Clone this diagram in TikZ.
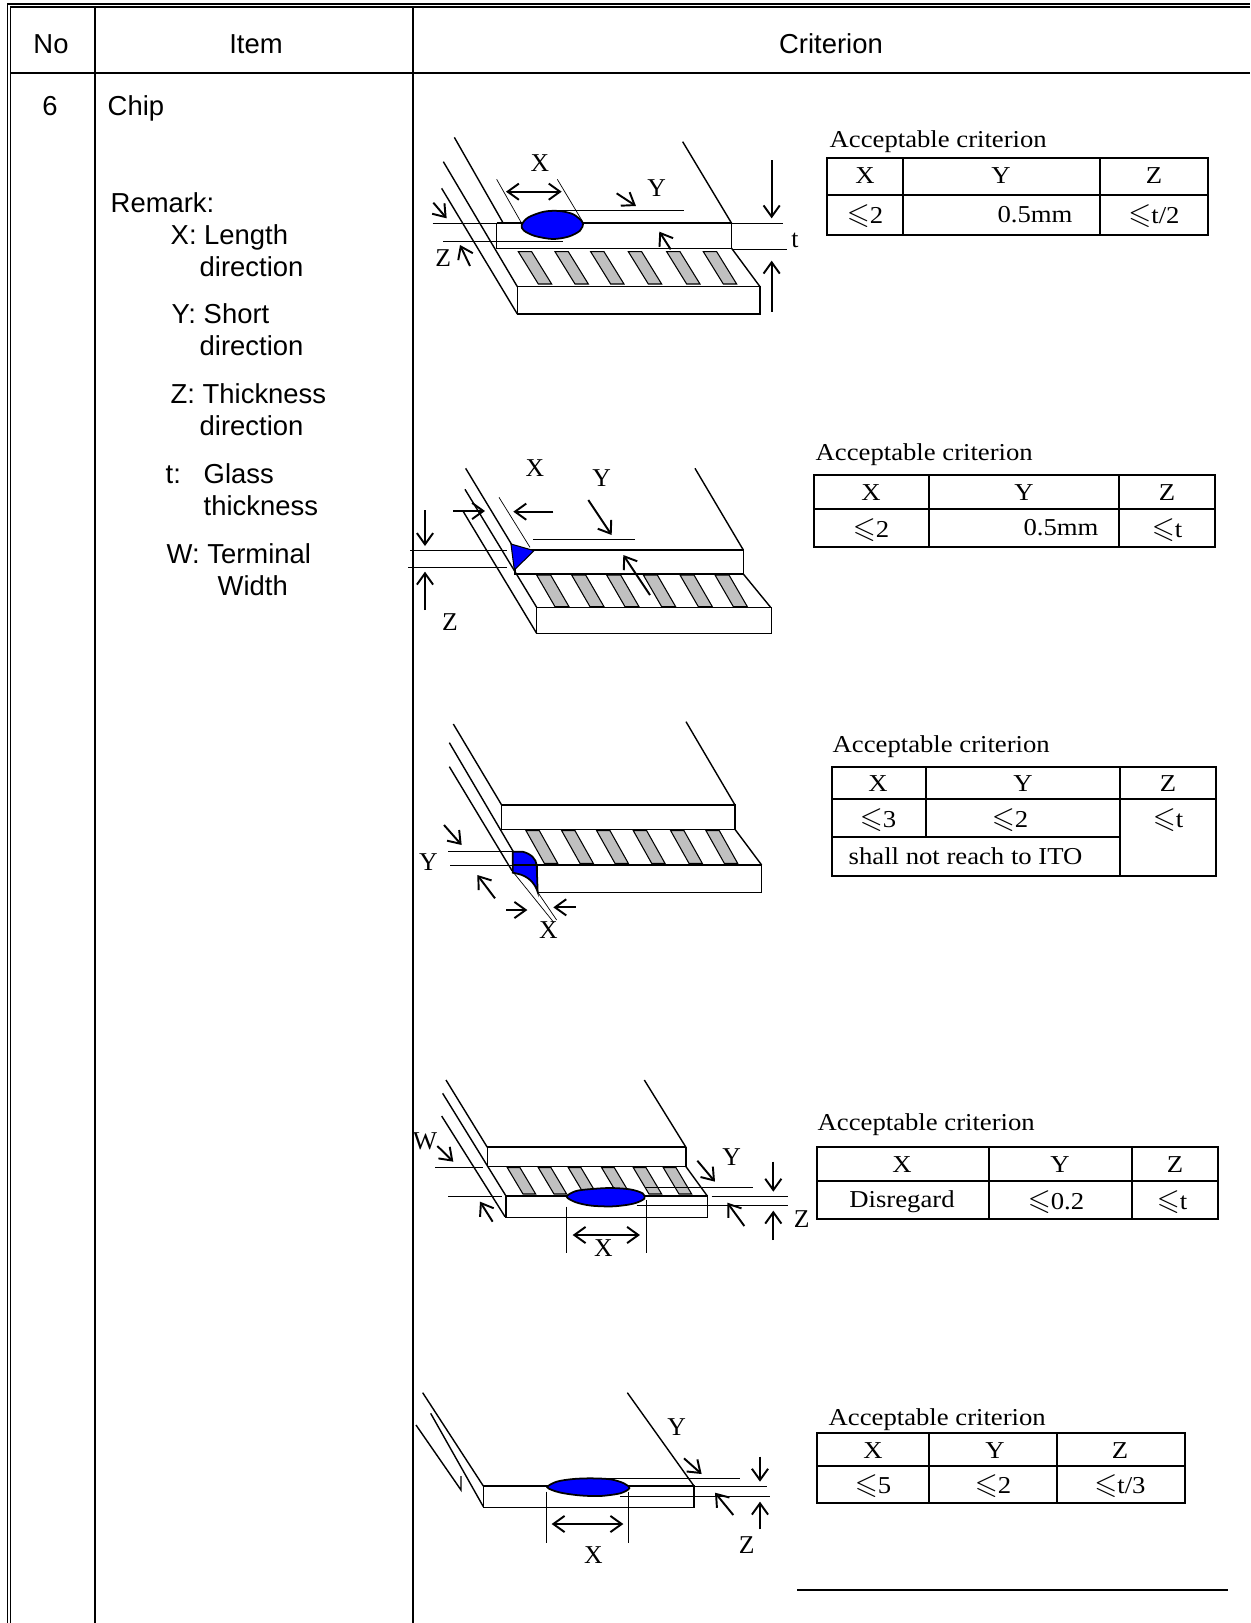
\documentclass[tikz,border=0pt]{standalone}
\usepackage{amssymb}
\usepackage{fontspec}
\usetikzlibrary{arrows.meta}
\newfontfamily\sansfont{Liberation Sans}
\newfontfamily\tabfont[FakeStretch=1.1]{Liberation Serif}
\newfontfamily\lblfont{Liberation Serif}
\definecolor{chipblue}{RGB}{0,0,255}
\definecolor{termgray}{RGB}{192,192,192}
\newcommand\lesym{{\fontsize{8.4}{8}\selectfont$\leqslant$}}
\tikzset{
  frame/.style={line width=0.48pt},
  rule/.style={line width=0.57pt},
  cellrule/.style={line width=0.48pt},
  glass/.style={line width=0.4pt},
  topedge/.style={line width=0.65pt},
  ext/.style={line width=0.2pt},
  dim/.style={line width=0.55pt,-{Straight Barb[length=3.2pt,width=4.6pt]}},
  dimboth/.style={line width=0.55pt,{Straight Barb[length=3.2pt,width=4.6pt]}-{Straight Barb[length=3.2pt,width=4.6pt]}},
  term/.style={draw,fill=termgray,line width=0.3pt},
  chip/.style={draw,fill=chipblue,line width=0.5pt},
  head/.style={font=\sansfont\fontsize{7.8}{9}\selectfont,anchor=base,inner sep=0pt},
  remark/.style={font=\sansfont\fontsize{7.8}{9}\selectfont,anchor=base west,inner sep=0pt},
  cell/.style={font=\tabfont\fontsize{6.9}{8}\selectfont,anchor=base,inner sep=0pt},
  lbl/.style={font=\lblfont\fontsize{7.3}{8.5}\selectfont,inner sep=0pt},
}
\begin{document}
\begin{tikzpicture}[x=0.01cm,y=-0.01cm]
  \useasboundingbox (0,0) rectangle (1250,1623);

  % frame of the sheet
  \draw[frame] (7.5,1623) -- (7.5,4) -- (1250,4);
  \draw[frame] (10.5,1623) -- (10.5,7) -- (1250,7);
  \draw[rule] (10.5,73) -- (1250,73);
  \draw[rule] (95,7) -- (95,1623);
  \draw[rule] (413,7) -- (413,1623);
  \draw[rule] (797,1590) -- (1228,1590);

  \node[head] (no) at (51,53) {No};
  \node[head] (item) at (256,53) {Item};
  \node[head] (crit) at (831,53) {Criterion};
  \node[head] (six) at (50,115) {6};
  \node[remark] (chip) at (107,115) {Chip};

  % remarks
  \node[remark] (rem) at (110,212) {Remark:};
  \node[remark] (rx1) at (170,244) {X: Length};
  \node[remark] (rx2) at (199,276) {direction};
  \node[remark] (ry1) at (171,323) {Y: Short};
  \node[remark] (ry2) at (199,355) {direction};
  \node[remark] (rz1) at (170,403) {Z: Thickness};
  \node[remark] (rz2) at (199,435) {direction};
  \node[remark] (rt0) at (165,483) {t:};
  \node[remark] (rt1) at (203,483) {Glass};
  \node[remark] (rt2) at (203,515) {thickness};
  \node[remark] (rw1) at (166,563) {W: Terminal};
  \node[remark] (rw2) at (217,595) {Width};

  % table 1
  \node[cell,anchor=base west] (ac1) at (829,147) {Acceptable criterion};
  \draw[cellrule] (827,158) rectangle (1208,235);
  \draw[cellrule] (827,195) -- (1208,195);
  \draw[cellrule] (903,158) -- (903,235);
  \draw[cellrule] (1100,158) -- (1100,235);
  \node[cell] at (865,183) {X};
  \node[cell] at (1001,183) {Y};
  \node[cell] at (1154,183) {Z};
  \node[cell] at (865,223) {\lesym2};
  \node[cell] at (1035,222) {0.5mm};
  \node[cell] at (1154,223) {\lesym t/2};

  % table 2
  \node[cell,anchor=base west] (ac2) at (815,460) {Acceptable criterion};
  \draw[cellrule] (814,475) rectangle (1215,547);
  \draw[cellrule] (814,509) -- (1215,509);
  \draw[cellrule] (929,475) -- (929,547);
  \draw[cellrule] (1119,475) -- (1119,547);
  \node[cell] at (871,500) {X};
  \node[cell] at (1024,500) {Y};
  \node[cell] at (1167,500) {Z};
  \node[cell] at (871,537) {\lesym2};
  \node[cell] at (1061,535) {0.5mm};
  \node[cell] at (1167,537) {\lesym t};

  % table 3
  \node[cell,anchor=base west] (ac3) at (832,752) {Acceptable criterion};
  \draw[cellrule] (832,767) rectangle (1216,876);
  \draw[cellrule] (832,799) -- (1216,799);
  \draw[cellrule] (832,837) -- (1120,837);
  \draw[cellrule] (926,767) -- (926,837);
  \draw[cellrule] (1120,767) -- (1120,876);
  \node[cell] at (878,791) {X};
  \node[cell] at (1023,791) {Y};
  \node[cell] at (1168,791) {Z};
  \node[cell] at (878,827) {\lesym3};
  \node[cell] at (1010,827) {\lesym2};
  \node[cell] at (1168,827) {\lesym t};
  \node[cell,anchor=base west] at (848,864) {shall not reach to ITO};

  % table 4
  \node[cell,anchor=base west] (ac4) at (817,1130) {Acceptable criterion};
  \draw[cellrule] (817,1147) rectangle (1218,1219);
  \draw[cellrule] (817,1181) -- (1218,1181);
  \draw[cellrule] (989,1147) -- (989,1219);
  \draw[cellrule] (1132,1147) -- (1132,1219);
  \node[cell] at (902,1172) {X};
  \node[cell] at (1060,1172) {Y};
  \node[cell] at (1175,1172) {Z};
  \node[cell] at (902,1207) {Disregard};
  \node[cell] at (1056,1209) {\lesym0.2};
  \node[cell] at (1172,1209) {\lesym t};

  % table 5
  \node[cell,anchor=base west] (ac5) at (828,1425) {Acceptable criterion};
  \draw[cellrule] (817,1433) rectangle (1185,1503);
  \draw[cellrule] (817,1466) -- (1185,1466);
  \draw[cellrule] (929,1433) -- (929,1503);
  \draw[cellrule] (1057,1433) -- (1057,1503);
  \node[cell] at (873,1458) {X};
  \node[cell] at (995,1458) {Y};
  \node[cell] at (1120,1458) {Z};
  \node[cell] at (873,1493) {\lesym5};
  \node[cell] at (993,1493) {\lesym2};
  \node[cell] at (1120,1493) {\lesym t/3};

  % sketch 1: chip on the top glass
  \begin{scope}[shift={(400,110)},scale=1/3]
    \draw[glass] (163,82) -- (310,340);
    \draw[glass] (848,95) -- (995,340);
    \draw[glass] (130,155) -- (352,530);
    \draw[glass] (125,235) -- (352,612);
    \draw[glass] (995,415) -- (1080,530);
    \draw[glass] (290,340) rectangle (995,415);
    \draw[topedge] (290,340) -- (995,340);
    \draw[glass] (352,530) rectangle (1080,612);
    \foreach \s in {355,465,572,685,800,910}
      \draw[term] (\s,425) -- (\s+40,425) -- (\s+100,522) -- (\s+60,522) -- cycle;
    \draw[ext] (98,340) -- (290,340);
    \draw[ext] (130,395) -- (490,395);
    \draw[ext] (480,302) -- (852,302);
    \draw[ext] (995,340) -- (1150,340);
    \draw[ext] (995,418) -- (1160,418);
    \draw[ext] (290,208) -- (365,340);
    \draw[ext] (472,208) -- (548,335);
    \draw[chip] plot[smooth cycle] coordinates {(365,345) (385,322) (432,305) (478,303)
      (520,313) (548,338) (540,362) (505,380) (458,387) (405,378) (372,362)};
    \draw[dimboth] (318,245) -- (485,245);
    \draw[dim] (650,250) -- (708,288);
    \draw[dim] (812,418) -- (778,365);
    \draw[dim] (100,278) -- (140,325);
    \draw[dim] (210,468) -- (180,405);
    \draw[dim] (1115,150) -- (1115,325);
    \draw[dim] (1115,605) -- (1115,452);
    \node[lbl] (x1) at (420,160) {X};
    \node[lbl] (y1) at (770,235) {Y};
    \node[lbl] (z1) at (130,445) {Z};
    \node[lbl] (t1) at (1185,392) {t};
  \end{scope}

  % sketch 2: chip at the corner
  \begin{scope}[shift={(400,440)},scale=1/3]
    \draw[glass] (197,85) -- (345,330);
    \draw[glass] (885,85) -- (1030,330);
    \draw[glass] (195,148) -- (410,502);
    \draw[glass] (190,215) -- (410,580);
    \draw[glass] (1030,402) -- (1112,502);
    \draw[glass] (345,330) rectangle (1030,402);
    \draw[topedge] (345,330) -- (1030,330);
    \draw[glass] (410,502) rectangle (1115,580);
    \foreach \s in {410,515,620,730,840,945}
      \draw[term] (\s,405) -- (\s+42,405) -- (\s+97,500) -- (\s+55,500) -- cycle;
    \draw[ext] (30,330) -- (320,330);
    \draw[ext] (25,382) -- (320,382);
    \draw[ext] (400,298) -- (705,298);
    \draw[ext] (297,172) -- (390,322);
    \draw[chip,line width=0.3pt] (333,312) -- (402,332) -- (343,390) -- cycle;
    \draw[dim] (75,210) -- (75,318);
    \draw[dim] (75,510) -- (75,395);
    \draw[dim] (160,213) -- (255,213);
    \draw[dim] (460,215) -- (340,215);
    \draw[dim] (565,180) -- (635,285);
    \draw[dim] (750,465) -- (670,345);
    \node[lbl] (x2) at (405,85) {X};
    \node[lbl] (y2) at (605,115) {Y};
    \node[lbl] (z2) at (150,545) {Z};
  \end{scope}

  % sketch 3: chip on the terminal glass corner
  \begin{scope}[shift={(400,700)},scale=1/3]
    \draw[glass] (160,72) -- (305,315);
    \draw[glass] (858,65) -- (1005,315);
    \draw[glass] (148,128) -- (340,455);
    \draw[glass] (148,200) -- (336,512);
    \draw[glass] (1005,388) -- (1085,495);
    \draw[glass] (305,315) rectangle (1005,388);
    \draw[topedge] (305,315) -- (1005,315);
    \draw[glass] (412,495) rectangle (1085,578);
    \foreach \s in {378,485,590,700,812,918}
      \draw[term] (\s,392) -- (\s+40,392) -- (\s+95,490) -- (\s+55,490) -- cycle;
    \draw[ext] (145,455) -- (340,455);
    \draw[ext] (150,495) -- (340,495);
    \draw[ext] (336,512) -- (462,668);
    \draw[ext] (412,575) -- (470,660);
    \draw[chip] (338,455) -- (368,455) .. controls (395,462) and (408,478) .. (410,495)
      -- (413,576) .. controls (405,550) and (385,528) .. (352,521) -- (338,518) -- cycle;
    \draw[glass] (338,495) -- (412,495);
    \draw[dim] (132,375) -- (185,435);
    \draw[dim] (285,595) -- (232,525);
    \draw[dim] (318,630) -- (382,630);
    \draw[dim] (527,622) -- (460,622);
    \node[lbl] (y3) at (85,485) {Y};
    \node[lbl] (x3) at (445,690) {X};
  \end{scope}

  % sketch 4: chip on the terminals
  \begin{scope}[shift={(400,1060)},scale=1/3]
    \draw[glass] (138,60) -- (262,262);
    \draw[glass] (733,60) -- (858,262);
    \draw[glass] (128,100) -- (318,408);
    \draw[glass] (125,168) -- (315,470);
    \draw[glass] (858,320) -- (922,408);
    \draw[glass] (262,262) rectangle (858,320);
    \draw[topedge] (262,262) -- (858,262);
    \draw[glass] (318,408) rectangle (922,472);
    \foreach \s in {322,415,505,605,700,790}
      \draw[term] (\s,323) -- (\s+38,323) -- (\s+85,402) -- (\s+47,402) -- cycle;
    \draw[ext] (105,322) -- (250,322);
    \draw[ext] (145,410) -- (305,410);
    \draw[ext] (500,440) -- (500,580);
    \draw[ext] (738,420) -- (738,580);
    \draw[ext] (735,383) -- (1058,383);
    \draw[ext] (935,408) -- (1165,408);
    \draw[ext] (710,437) -- (1165,437);
    \draw[chip] plot[smooth cycle] coordinates {(500,410) (528,393) (575,387) (632,384)
      (690,388) (728,400) (733,416) (700,431) (640,439) (575,437) (528,427)};
    \draw[dim] (112,258) -- (160,305);
    \draw[dim] (278,485) -- (240,425);
    \draw[dimboth] (518,525) -- (720,525);
    \draw[dim] (892,302) -- (945,365);
    \draw[dim] (1033,498) -- (982,428);
    \draw[dim] (1120,305) -- (1120,395);
    \draw[dim] (1120,540) -- (1120,452);
    \node[lbl] (w4) at (75,245) {W};
    \node[lbl] (y4) at (995,290) {Y};
    \node[lbl] (x4) at (610,565) {X};
    \node[lbl] (z4) at (1205,478) {Z};
  \end{scope}

  % sketch 5: chip on a single glass
  \begin{scope}[shift={(400,1380)},scale=1/3]
    \draw[glass] (68,38) -- (250,318);
    \draw[glass] (92,100) -- (250,380);
    \draw[glass] (48,135) -- (183,330) -- (183,288);
    \draw[glass] (682,38) -- (882,318);
    \draw[glass] (250,318) rectangle (882,382);
    \draw[topedge] (250,318) -- (882,318);
    \draw[ext] (440,335) -- (440,488);
    \draw[ext] (686,335) -- (686,488);
    \draw[ext] (620,296) -- (1020,296);
    \draw[ext] (882,320) -- (1100,320);
    \draw[ext] (660,348) -- (1110,348);
    \draw[chip] plot[smooth cycle] coordinates {(442,322) (470,305) (520,297) (575,295)
      (632,298) (672,310) (688,325) (660,340) (600,348) (538,346) (478,337)};
    \draw[dimboth] (455,432) -- (670,432);
    \draw[dim] (852,235) -- (905,282);
    \draw[dim] (1000,405) -- (945,338);
    \draw[dim] (1080,230) -- (1080,305);
    \draw[dim] (1080,448) -- (1080,365);
    \node[lbl] (y5) at (830,140) {Y};
    \node[lbl] (x5) at (580,525) {X};
    \node[lbl] (z5) at (1040,495) {Z};
  \end{scope}
\end{tikzpicture}
\end{document}
